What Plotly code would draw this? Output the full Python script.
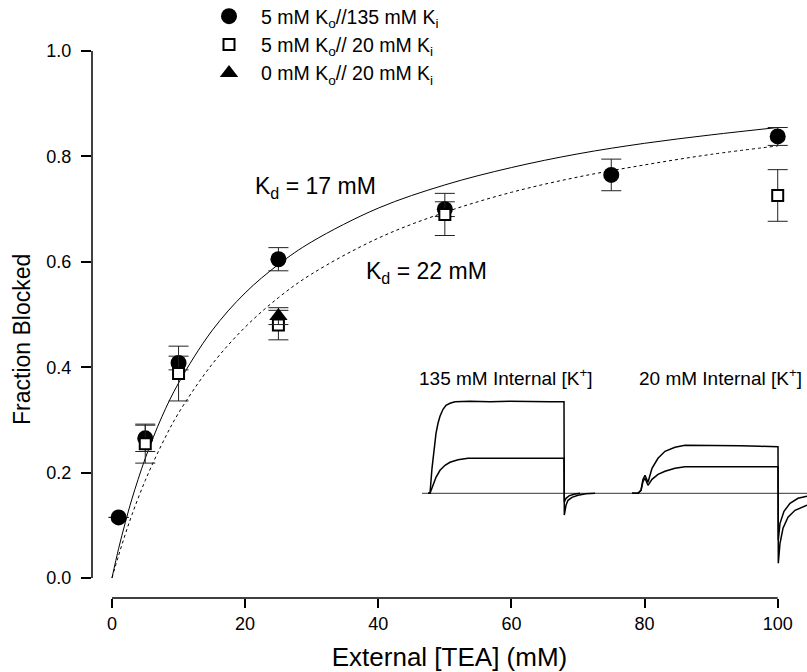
import plotly.graph_objects as go

# ---------------- data ----------------
x_ticks = [0, 20, 40, 60, 80, 100]
y_ticks = [0.0, 0.2, 0.4, 0.6, 0.8, 1.0]

# 5 mM Ko // 135 mM Ki  (filled circles)
circ_x = [1, 5, 10, 25, 50, 75, 100]
circ_y = [0.115, 0.265, 0.408, 0.605, 0.700, 0.765, 0.838]
circ_e = [0.0, 0.025, 0.013, 0.022, 0.014, 0.030, 0.017]

# 5 mM Ko // 20 mM Ki  (open squares)
sq_x = [5, 10, 25, 50, 100]
sq_y = [0.255, 0.388, 0.480, 0.690, 0.726]
sq_e = [0.037, 0.052, 0.028, 0.040, 0.049]

# 0 mM Ko // 20 mM Ki  (filled triangle)
tri_x = [25]
tri_y = [0.497]
tri_e = [0.016]

# fitted binding curves
fit_x = [0, 1, 2, 3, 5, 7.5, 10, 15, 20, 25, 30, 40, 50, 60, 70, 80, 90, 100]
fit17_y = [0.0, 0.056, 0.105, 0.150, 0.227, 0.306, 0.370, 0.469, 0.541, 0.595,
           0.638, 0.702, 0.746, 0.779, 0.805, 0.825, 0.841, 0.855]
fit22_y = [0.0, 0.043, 0.083, 0.120, 0.185, 0.254, 0.313, 0.405, 0.476, 0.532,
           0.577, 0.645, 0.694, 0.732, 0.761, 0.784, 0.804, 0.820]

# inset current traces (arbitrary time / current units)
base_t = [2, 387]
base_i = [0, 0]

a1_t = [8, 10, 12, 14, 16, 18, 20, 23, 26, 30, 35, 50, 70, 90, 110, 130, 144, 144.3, 146, 148, 152, 158, 166, 175]
a1_i = [0, 0, 25, 45, 60, 70, 77, 84, 88, 90, 91.5, 92, 91.5, 92, 91.5, 91.5, 91.5, -21.7, -12, -7, -4, -2, -0.5, 0]

a2_t = [8, 10, 13, 16, 20, 25, 30, 38, 48, 70, 90, 110, 130, 144, 144.3, 146, 149, 154, 160]
a2_i = [0, 0, 8, 16, 23, 28, 31, 33.5, 35, 35, 35.5, 35, 35, 35, -9, -5, -2.5, -1, 0]

b1_t = [212, 218, 221, 223, 225, 228, 232, 238, 245, 255, 265, 290, 320, 340, 358, 358.3, 360, 363, 368, 375, 387]
b1_i = [0, 0, 3, 14, 18, 11, 25, 35, 42, 46, 48, 48, 47.5, 47, 46.6, -70, -50, -35, -24, -17, -12]

b2_t = [212, 218, 221, 223, 225, 228, 232, 238, 245, 255, 265, 290, 320, 340, 358, 358.3, 360, 364, 370, 378, 387]
b2_i = [0, 0, 3, 12, 15, 8, 14, 19, 22, 25, 26.5, 26.5, 26.8, 26.5, 26.6, -46.7, -30, -18, -10, -5, -3]

# ---------------- layout geometry (pixels) ----------------
W, H = 807, 672
ML, MR, MT, MB = 92, 0, 0, 74
PW, PH = W - ML - MR, H - MT - MB


def px(xp):
    return (xp - ML) / PW


def py(yp):
    return (H - MB - yp) / PH


FONT = "Liberation Sans, Arial, Helvetica, sans-serif"
fig = go.Figure()

fig.add_trace(go.Scatter(x=fit_x, y=fit17_y, mode="lines", line=dict(color="black", width=1, shape="spline"),
                         showlegend=False, hoverinfo="skip"))
fig.add_trace(go.Scatter(x=fit_x, y=fit22_y, mode="lines",
                         line=dict(color="black", width=1, dash="3px,3px", shape="spline"),
                         showlegend=False, hoverinfo="skip"))

err_style = dict(type="data", thickness=1, width=10, color="#222")
fig.add_trace(go.Scatter(x=circ_x, y=circ_y, mode="markers", name="5 mM K<sub>o</sub>//135 mM K<sub>i</sub>",
                         marker=dict(symbol="circle", size=16, color="black"),
                         error_y=dict(array=circ_e, **err_style)))
fig.add_trace(go.Scatter(x=sq_x, y=sq_y, mode="markers", name="5 mM K<sub>o</sub>// 20 mM K<sub>i</sub>",
                         marker=dict(symbol="square", size=11, color="white", line=dict(color="black", width=2)),
                         error_y=dict(array=sq_e, **err_style)))
fig.add_trace(go.Scatter(x=tri_x, y=tri_y, mode="markers", name="0 mM K<sub>o</sub>// 20 mM K<sub>i</sub>",
                         marker=dict(symbol="triangle-up", size=16, color="black"),
                         error_y=dict(array=tri_e, **err_style)))

# inset traces
for t, i, w in [(base_t, base_i, 0.8), (a1_t, a1_i, 1.5), (a2_t, a2_i, 1.5), (b1_t, b1_i, 1.5), (b2_t, b2_i, 1.5)]:
    fig.add_trace(go.Scatter(x=t, y=i, mode="lines", xaxis="x2", yaxis="y2",
                             line=dict(color="black", width=w), showlegend=False, hoverinfo="skip"))

fig.update_layout(
    width=W, height=H,
    margin=dict(l=ML, r=MR, t=MT, b=MB, autoexpand=False),
    paper_bgcolor="white", plot_bgcolor="white",
    font=dict(family=FONT, color="black", size=18),
    showlegend=True,
    legend=dict(x=px(197), y=py(-3), xanchor="left", yanchor="top", bgcolor="rgba(0,0,0,0)",
                font=dict(size=19.5), tracegroupgap=0, itemwidth=54),
    xaxis=dict(range=[-3.0, 104.4], tickvals=x_ticks, ticks="outside", ticklen=9, tickwidth=1.5,
               tickcolor="black", showline=False, showgrid=False, zeroline=False, automargin=False,
               tickfont=dict(size=18),
               title=dict(text="External [TEA] (mM)", font=dict(size=26), standoff=23)),
    yaxis=dict(range=[-0.038, 1.097], tickvals=y_ticks, tickformat=".1f", ticks="outside", ticklen=10,
               tickwidth=1.5, tickcolor="black", showline=False, showgrid=False, zeroline=False,
               automargin=False, tickfont=dict(size=18), ticklabelstandoff=6),
    xaxis2=dict(domain=[px(420), px(807)], range=[0, 387], visible=False, anchor="y2"),
    yaxis2=dict(domain=[py(570), py(395)], range=[-76.7, 98.3], visible=False, anchor="x2"),
)

# axis lines spanning only the tick range (detached-axis look)
fig.add_shape(type="line", xref="x", yref="paper", x0=min(x_ticks), x1=max(x_ticks), y0=0, y1=0,
              line=dict(color="black", width=1.5))
fig.add_shape(type="line", xref="paper", yref="y", x0=0, x1=0, y0=min(y_ticks), y1=max(y_ticks),
              line=dict(color="black", width=1.5))

ann = dict(xref="paper", yref="paper", showarrow=False, xanchor="center", yanchor="middle")
fig.add_annotation(text="Fraction Blocked", x=px(22), y=py(340), textangle=-90, font=dict(size=23), **ann)
fig.add_annotation(text="K<sub>d</sub> = 17 mM", x=px(315), y=py(187), font=dict(size=23), **ann)
fig.add_annotation(text="K<sub>d</sub> = 22 mM", x=px(426), y=py(272), font=dict(size=23), **ann)
fig.add_annotation(text="135 mM Internal [K<sup>+</sup>]", x=px(506), y=py(377), font=dict(size=19), **ann)
fig.add_annotation(text="20 mM Internal [K<sup>+</sup>]", x=px(720), y=py(377), font=dict(size=19), **ann)

# remove the browser's default 8px body margin so the figure sits at the page origin
fig.write_html("out.html", config={"displayModeBar": False},
               post_script="document.body.style.margin='0';")
